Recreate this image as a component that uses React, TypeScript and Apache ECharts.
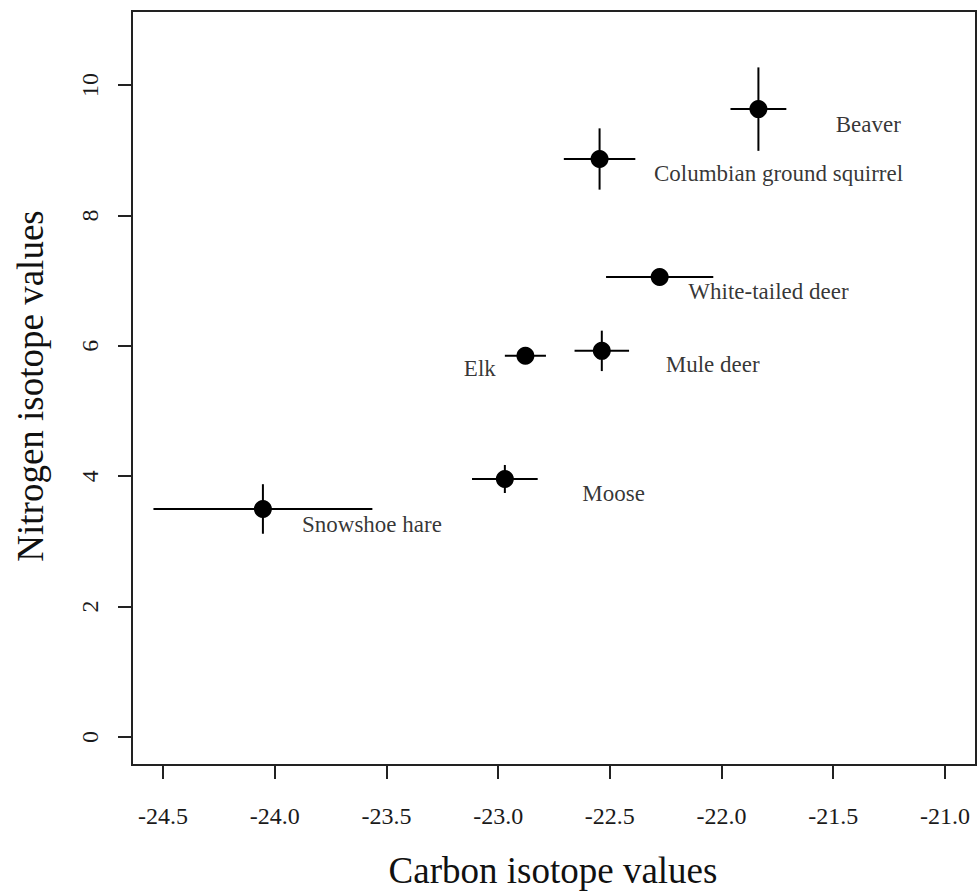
import React, { useEffect, useRef } from "react";
import * as echarts from "echarts";

const species = ["Beaver", "Columbian ground squirrel", "White-tailed deer", "Mule deer", "Elk", "Moose", "Snowshoe hare"];
const carbon = [-21.835, -22.546, -22.277, -22.536, -22.878, -22.97, -24.053];
const nitrogen = [9.63, 8.865, 7.055, 5.922, 5.847, 3.957, 3.497];
const carbonErr = [0.125, 0.16, 0.24, 0.122, 0.092, 0.147, 0.49];
const nitrogenErr = [0.64, 0.47, 0.0, 0.31, 0.04, 0.215, 0.38];
const labelX = [-21.343, -21.745, -21.79, -22.04, -23.082, -22.483, -23.565];
const labelY = [9.387, 8.65, 6.825, 5.706, 5.644, 3.727, 3.252];
const xTicks = [-24.5, -24.0, -23.5, -23.0, -22.5, -22.0, -21.5, -21.0];
const yTicks = [0, 2, 4, 6, 8, 10];

const FONT = "'Liberation Serif', 'Times New Roman', serif";

export default function App() {
  const ref = useRef<HTMLDivElement>(null);
  useEffect(() => {
    if (!ref.current) return;
    const chart = echarts.init(ref.current, null, { renderer: "svg" });
    const errData = species.map((s, i) => [carbon[i], nitrogen[i], carbonErr[i], nitrogenErr[i]]);
    chart.setOption({
      animation: false,
      backgroundColor: "#fff",
      grid: {
        left: 132,
        top: 11,
        right: 1,
        bottom: 129,
        show: true,
        borderColor: "#222",
        borderWidth: 2,
        backgroundColor: "transparent",
      },
      xAxis: {
        type: "value",
        min: -24.639,
        max: -20.861,
        splitLine: { show: false },
        axisLine: { show: false, onZero: false },
        axisTick: {
          show: true,
          length: 14,
          inside: false,
          lineStyle: { color: "#222", width: 2 },
          customValues: xTicks,
        },
        axisLabel: {
          customValues: xTicks,
          formatter: (v: number) => v.toFixed(1),
          fontFamily: FONT,
          fontSize: 24,
          color: "#1a1a1a",
          margin: 39,
        },
      },
      yAxis: {
        type: "value",
        min: -0.43,
        max: 11.135,
        splitLine: { show: false },
        axisLine: { show: false, onZero: false },
        axisTick: {
          show: true,
          length: 14,
          lineStyle: { color: "#222", width: 2 },
          customValues: yTicks,
        },
        axisLabel: {
          customValues: yTicks,
          rotate: 90,
          fontFamily: FONT,
          fontSize: 24,
          color: "#1a1a1a",
          margin: 30,
        },
      },
      graphic: [
        {
          type: "text",
          x: 553,
          y: 870,
          style: {
            text: "Carbon isotope values",
            fontFamily: FONT,
            fontSize: 37,
            fill: "#111",
            textAlign: "center",
            textVerticalAlign: "middle",
          },
        },
        {
          type: "text",
          x: 30,
          y: 386,
          rotation: Math.PI / 2,
          style: {
            text: "Nitrogen isotope values",
            fontFamily: FONT,
            fontSize: 37,
            fill: "#111",
            textAlign: "center",
            textVerticalAlign: "middle",
          },
        },
      ],
      series: [
        {
          type: "custom",
          data: errData,
          z: 2,
          renderItem: (params: any, api: any) => {
            const x = api.value(0);
            const y = api.value(1);
            const ex = api.value(2);
            const ey = api.value(3);
            const l = api.coord([x - ex, y]);
            const r = api.coord([x + ex, y]);
            const t = api.coord([x, y + ey]);
            const b = api.coord([x, y - ey]);
            const st = { stroke: "#000", lineWidth: 2 };
            return {
              type: "group",
              children: [
                { type: "line", shape: { x1: l[0], y1: l[1], x2: r[0], y2: r[1] }, style: st },
                { type: "line", shape: { x1: t[0], y1: t[1], x2: b[0], y2: b[1] }, style: st },
              ],
            };
          },
        },
        {
          type: "scatter",
          data: species.map((s, i) => [carbon[i], nitrogen[i]]),
          symbol: "circle",
          symbolSize: 18,
          itemStyle: { color: "#000", opacity: 1 },
          z: 3,
        },
        {
          type: "scatter",
          data: species.map((s, i) => ({ value: [labelX[i], labelY[i]], name: s })),
          symbolSize: 0,
          z: 4,
          label: {
            show: true,
            position: "inside",
            formatter: (p: any) => p.name,
            fontFamily: FONT,
            fontSize: 23,
            color: "#000",
          },
        },
      ],
    });
    return () => chart.dispose();
  }, []);
  return <div ref={ref} style={{ position: "fixed", left: 0, top: 0, width: 977, height: 894 }} />;
}
